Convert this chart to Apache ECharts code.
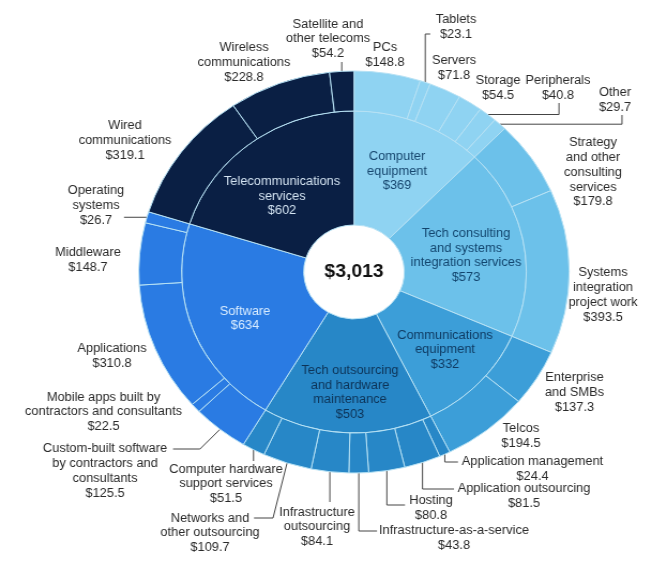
<!DOCTYPE html>
<html><head><meta charset="utf-8">
<script src="https://cdn.jsdelivr.net/npm/echarts@6/dist/echarts.min.js"></script>
<style>
html,body{margin:0;padding:0;background:#fff;overflow:hidden}
#wrap{width:667px;height:569px;overflow:hidden;position:relative}
#main{width:623px;height:569px;transform-origin:0 0;}
</style></head><body><div id="wrap"><div id="main"></div></div>
<script>
// ---------- data ----------
const categories = ['Computer equipment', 'Tech consulting and systems integration services', 'Communications equipment', 'Tech outsourcing and hardware maintenance', 'Software', 'Telecommunications services'];
const categoryTotals = [369, 573, 332, 503, 634, 602];

const computerItems = ['PCs', 'Tablets', 'Servers', 'Storage', 'Peripherals', 'Other'];
const computerValues = [148.8, 23.1, 71.8, 54.5, 40.8, 29.7];
const consultingItems = ['Strategy and other consulting services', 'Systems integration project work'];
const consultingValues = [179.8, 393.5];
const commItems = ['Enterprise and SMBs', 'Telcos'];
const commValues = [137.3, 194.5];
const outsourcingItems = ['Application management', 'Application outsourcing', 'Hosting', 'Infrastructure-as-a-service', 'Infrastructure outsourcing', 'Networks and other outsourcing', 'Computer hardware support services'];
const outsourcingValues = [24.4, 81.5, 80.8, 43.8, 84.1, 109.7, 51.5];
const softwareItems = ['Custom-built software by contractors and consultants', 'Mobile apps built by contractors and consultants', 'Applications', 'Middleware', 'Operating systems'];
const softwareValues = [125.5, 22.5, 310.8, 148.7, 26.7];
const telecomItems = ['Wired communications', 'Wireless communications', 'Satellite and other telecoms'];
const telecomValues = [319.1, 228.8, 54.2];

// ---------- presentation ----------
const S = 667 / 623;               // horizontal stretch of the reference picture
const CX = 354, CY = 272;          // centre in reference pixels
const colors = ['#8fd3f2', '#6cc1ea', '#3c9ed8', '#2787c7', '#2a7be3', '#0a1f44'];
const innerTextColors = ['#16466e', '#12456e', '#0f3b63', '#0d3357', '#d8ecff', '#d4e4f2'];

const lineText = {
  'Computer equipment': 'Computer\nequipment',
  'Tech consulting and systems integration services': 'Tech consulting\nand systems\nintegration services',
  'Communications equipment': 'Communications\nequipment',
  'Tech outsourcing and hardware maintenance': 'Tech outsourcing\nand hardware\nmaintenance',
  'Software': 'Software',
  'Telecommunications services': 'Telecommunications\nservices',
  'Strategy and other consulting services': 'Strategy\nand other\nconsulting\nservices',
  'Systems integration project work': 'Systems\nintegration\nproject work',
  'Enterprise and SMBs': 'Enterprise\nand SMBs',
  'Infrastructure outsourcing': 'Infrastructure\noutsourcing',
  'Networks and other outsourcing': 'Networks and\nother outsourcing',
  'Computer hardware support services': 'Computer hardware\nsupport services',
  'Custom-built software by contractors and consultants': 'Custom-built software\nby contractors and\nconsultants',
  'Mobile apps built by contractors and consultants': 'Mobile apps built by\ncontractors and consultants',
  'Operating systems': 'Operating\nsystems',
  'Wired communications': 'Wired\ncommunications',
  'Wireless communications': 'Wireless\ncommunications',
  'Satellite and other telecoms': 'Satellite and\nother telecoms'
};

// label block centres, reference pixels
const labelPos = {
  'Computer equipment': [397, 171.5],
  'Tech consulting and systems integration services': [466, 255.5],
  'Communications equipment': [445, 350],
  'Tech outsourcing and hardware maintenance': [350, 392.5],
  'Software': [245, 318.5],
  'Telecommunications services': [282, 196.5],
  'PCs': [385, 55],
  'Tablets': [456, 27],
  'Servers': [454, 68],
  'Storage': [498, 88],
  'Peripherals': [558, 88],
  'Other': [615, 100.5],
  'Strategy and other consulting services': [593, 172.5],
  'Systems integration project work': [603, 295],
  'Enterprise and SMBs': [574.5, 392.5],
  'Telcos': [521, 436.5],
  'Application management': [532.5, 469.5],
  'Application outsourcing': [524, 496.5],
  'Hosting': [431, 508.5],
  'Infrastructure-as-a-service': [454, 538.5],
  'Infrastructure outsourcing': [317, 527],
  'Networks and other outsourcing': [210, 533],
  'Computer hardware support services': [226, 484],
  'Custom-built software by contractors and consultants': [105, 471],
  'Mobile apps built by contractors and consultants': [103.5, 412],
  'Applications': [112, 356.5],
  'Middleware': [88, 260],
  'Operating systems': [96, 205.5],
  'Wired communications': [125, 140.5],
  'Wireless communications': [244, 62.5],
  'Satellite and other telecoms': [328, 39]
};

// leader lines (reference pixels); a = anchor on the outer ring
const leaders = {
  'Satellite and other telecoms': a => [a, [a[0], 62]],
  'Tablets': a => [a, [a[0], 34], [a[0] + 5, 34]],
  'Peripherals': a => [a, [559, a[1]], [559, 103]],
  'Other': a => [a, [622, a[1]], [622, 115]],
  'Operating systems': a => [a, [124, a[1]]],
  'Custom-built software by contractors and consultants': a => [a, [200, 449], [173, 449]],
  'Computer hardware support services': a => [a, [a[0], 461]],
  'Networks and other outsourcing': a => [a, [273, 518], [254, 518]],
  'Infrastructure outsourcing': a => [a, [a[0], 502]],
  'Infrastructure-as-a-service': a => [a, [a[0], 531], [377, 531]],
  'Hosting': a => [a, [a[0], 505], [405, 505]],
  'Application outsourcing': a => [a, [a[0], 489], [454, 489]],
  'Application management': a => [a, [a[0], 462], [458, 462]]
};

const groups = [
  [computerItems, computerValues],
  [consultingItems, consultingValues],
  [commItems, commValues],
  [outsourcingItems, outsourcingValues],
  [softwareItems, softwareValues],
  [telecomItems, telecomValues]
];

const fmt = v => '$' + v.toLocaleString('en-US');

const innerData = categories.map((name, i) => ({
  name: name,
  value: groups[i][1].reduce((s, v) => s + v, 0),
  total: categoryTotals[i],
  itemStyle: { color: colors[i] },
  label: { color: innerTextColors[i] }
}));

const outerData = [];
groups.forEach((g, i) => {
  g[0].forEach((name, j) => {
    outerData.push({
      name: name,
      value: g[1][j],
      itemStyle: { color: colors[i] },
      labelLine: { show: !!leaders[name] }
    });
  });
});

const grandTotal = categoryTotals.reduce((s, v) => s + v, 0);

function layoutFor(list) {
  return function (p) {
    const name = list[p.dataIndex].name;
    const pos = labelPos[name];
    if (!pos) return {};
    const out = { x: pos[0] / S, y: pos[1], align: 'center', verticalAlign: 'middle' };
    const f = leaders[name];
    if (f && p.labelLinePoints) {
      const a0 = p.labelLinePoints[0];
      let pts = f([a0[0] * S, a0[1]]).map(q => [q[0] / S, q[1]]);
      while (pts.length < 3) pts.push(pts[pts.length - 1].slice());
      out.labelLinePoints = pts;
    }
    return out;
  };
}

const FONT = 'Liberation Sans, Arial, Helvetica, sans-serif';
const border = { borderColor: '#b7e2f5', borderWidth: 1 };
const center = [CX / S, CY];

const chart = echarts.init(document.getElementById('main'), null, { width: 623, height: 569, renderer: 'canvas' });
chart.setOption({
  backgroundColor: '#ffffff',
  animation: false,
  series: [
    {
      type: 'pie', name: 'total', center: center, radius: [0, 47],
      silent: true, emphasis: { disabled: true },
      data: [{ name: 'Total', value: grandTotal, itemStyle: { color: '#ffffff' } }],
      label: { show: true, position: 'center', formatter: () => fmt(grandTotal),
               fontFamily: FONT, fontSize: 18, fontWeight: 'bold', color: '#111111' },
      labelLine: { show: false }
    },
    {
      type: 'pie', name: 'categories', center: center, radius: [47, 161],
      startAngle: 90, clockwise: true, silent: true, emphasis: { disabled: true },
      avoidLabelOverlap: false,
      itemStyle: border,
      data: innerData,
      label: {
        show: true, position: 'inside', fontFamily: FONT, fontSize: 12, lineHeight: 14.6,
        align: 'center',
        formatter: p => (lineText[p.name] || p.name) + '\n' + fmt(p.data.total)
      },
      labelLayout: layoutFor(innerData)
    },
    {
      type: 'pie', name: 'segments', center: center, radius: [161, 201],
      startAngle: 90, clockwise: true, silent: true, emphasis: { disabled: true },
      avoidLabelOverlap: false, minShowLabelAngle: 0,
      itemStyle: border,
      data: outerData,
      label: {
        show: true, position: 'outside', fontFamily: FONT, fontSize: 12, lineHeight: 14.8,
        color: '#2a2a2a', align: 'center', overflow: 'none',
        formatter: p => (lineText[p.name] || p.name) + '\n' + fmt(p.value)
      },
      labelLine: { show: true, length: 4, length2: 4, lineStyle: { color: '#444444', width: 1 } },
      labelLayout: layoutFor(outerData)
    }
  ]
});
document.getElementById('main').style.transform = 'scaleX(' + S + ')';
</script>
</body></html>
